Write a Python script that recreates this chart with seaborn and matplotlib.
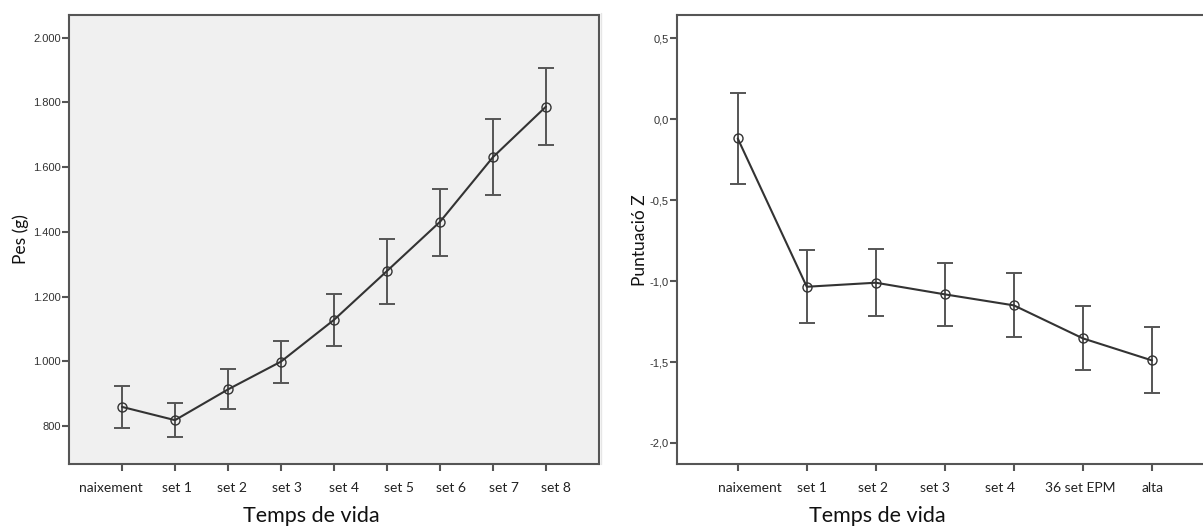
import numpy as np
import pandas as pd
import matplotlib
matplotlib.use("Agg")
import matplotlib.pyplot as plt
import matplotlib.transforms as mtransforms
from matplotlib.lines import Line2D
import seaborn as sns

# ---- data ----
cats_left = ["naixement", "set 1", "set 2", "set 3", "set 4", "set 5", "set 6", "set 7", "set 8"]
pes_mean = [859, 818, 913, 999, 1128, 1279, 1431, 1631, 1787]
pes_upper = [924, 870, 976, 1064, 1208, 1378, 1532, 1749, 1906]
pes_lower = [795, 765, 852, 934, 1047, 1177, 1326, 1514, 1667]
yticks_left = [800, 1000, 1200, 1400, 1600, 1800, 2000]
yticklabels_left = ["800", "1.000", "1.200", "1.400", "1.600", "1.800", "2.000"]

cats_right = ["naixement", "set 1", "set 2", "set 3", "set 4", "36 set EPM", "alta"]
z_mean = [-0.119, -1.035, -1.010, -1.082, -1.150, -1.354, -1.490]
z_upper = [0.160, -0.809, -0.800, -0.887, -0.951, -1.156, -1.284]
z_lower = [-0.403, -1.259, -1.216, -1.276, -1.344, -1.551, -1.693]
yticks_right = [-2.0, -1.5, -1.0, -0.5, 0.0, 0.5]
yticklabels_right = ["-2,0", "-1,5", "-1,0", "-0,5", "0,0", "0,5"]

# ---- styling: horizontal nudges (pixels) of the category labels, as in the original ----
label_shift_left = [-11, 2.5, 4, 6, 10, 11.5, 11, 11, 10]
label_shift_right = [12, 5, -3, -9.5, -14, -3, 1]

sns.set_theme(style="white")
plt.rcParams["font.family"] = ["Lato", "DejaVu Sans"]

W, H = 1203, 527
fig = plt.figure(figsize=(W / 100, H / 100), dpi=100)

def px_axes(x0, x1, y0, y1):
    return fig.add_axes([x0 / W, 1 - y1 / H, (x1 - x0) / W, (y1 - y0) / H])

axL = px_axes(69, 599, 14.7, 464)
axR = px_axes(677, 1203, 15.3, 464)

line_col = "#333333"
err_col = "#555555"
spine_col = "#555555"

def draw(ax, cats, mean, upper, lower):
    df = pd.DataFrame({"pos": np.arange(len(cats)), "mean": mean,
                       "upper": upper, "lower": lower})
    ax.errorbar(df["pos"], df["mean"],
                yerr=[df["mean"] - df["lower"], df["upper"] - df["mean"]],
                fmt="none", ecolor=err_col, elinewidth=1.4, capsize=6,
                capthick=1.4, zorder=2)
    sns.lineplot(data=df, x="pos", y="mean", ax=ax, color=line_col,
                 linewidth=1.5, marker="o", markersize=6.5,
                 markerfacecolor="none", markeredgecolor=line_col,
                 markeredgewidth=1.0, zorder=3)
    ax.set_xticks(df["pos"])
    ax.set_xticklabels(cats, fontsize=10, color="#222222", family=["Lato", "DejaVu Sans"])
    for s in ax.spines.values():
        s.set_color(spine_col)
        s.set_linewidth(1.5)
    ax.tick_params(axis="both", which="both", direction="out", color=spine_col,
                   width=1.5, bottom=True, left=True)
    ax.tick_params(axis="x", length=5, pad=8)
    ax.tick_params(axis="y", length=5, pad=1)
    ax.set_xlabel("Temps de vida", fontsize=15.5, color="#111111")

def nudge_labels(ax, shifts):
    for tick, dx in zip(ax.xaxis.get_major_ticks(), shifts):
        lab = tick.label1
        lab.set_transform(lab.get_transform() +
                          mtransforms.ScaledTranslation(dx / 100, 0, fig.dpi_scale_trans))

# left panel
draw(axL, cats_left, pes_mean, pes_upper, pes_lower)
axL.set_facecolor("#f0f0f0")
axL.set_xlim(-1, 9)
axL.set_ylim(682.5, 2071)
axL.set_yticks(yticks_left)
axL.set_yticklabels(yticklabels_left, fontsize=8, color="#333333",
                    family=["Liberation Sans", "DejaVu Sans"])
axL.set_ylabel("Pes (g)", fontsize=12.5, color="#111111", labelpad=3)
axL.xaxis.set_label_coords(0.457, -0.093)

# right panel
draw(axR, cats_right, z_mean, z_upper, z_lower)
axR.set_facecolor("white")
axR.set_xlim(-0.88, 6.74)
axR.set_ylim(-2.13, 0.642)
axR.set_yticks(yticks_right)
axR.set_yticklabels(yticklabels_right, fontsize=8, color="#333333",
                    family=["Liberation Sans", "DejaVu Sans"])
axR.set_ylabel("Puntuació Z", fontsize=12.5, color="#111111", labelpad=1)
axR.xaxis.set_label_coords(0.380, -0.093)
axR.spines["right"].set_visible(False)

nudge_labels(axL, label_shift_left)
nudge_labels(axR, label_shift_right)

# faint separator line between the two images
fig.add_artist(Line2D([601 / W, 601 / W], [1 - 464 / H, 1 - 13 / H],
                      transform=fig.transFigure, color="#e6e6e6", linewidth=1))

fig.savefig("out.png", dpi=100)
